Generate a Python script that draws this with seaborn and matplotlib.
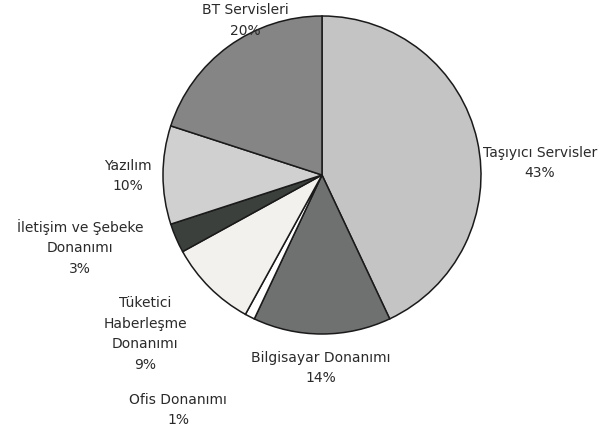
import matplotlib
matplotlib.use("Agg")
import matplotlib.pyplot as plt
import seaborn as sns

sns.set_theme(style="white")
plt.rcParams['font.family'] = ['DejaVu Sans']

categories = ["Taşıyıcı Servisler", "Bilgisayar Donanımı", "Ofis Donanımı",
              "Tüketici\nHaberleşme\nDonanımı", "İletişim ve Şebeke\nDonanımı",
              "Yazılım", "BT Servisleri"]
values = [43, 14, 1, 9, 3, 10, 20]
colors = ["#c4c4c4", "#6f7070", "#ffffff", "#f3f1ee", "#3c403c", "#d0d0d0", "#858585"]
# label anchor positions (axes data units, pie radius = 1)
label_pos = [(1.371, 0.075), (-0.006, -1.215), (-0.906, -1.478),
             (-1.113, -1.0), (-1.522, -0.455), (-1.22, -0.006), (-0.484, 0.972)]

fig = plt.figure(figsize=(6.12, 4.37), dpi=100)
ax = fig.add_axes([0, 0, 1, 1])
ax.pie(values, colors=colors, startangle=90, counterclock=False,
       wedgeprops=dict(edgecolor="#1a1a1a", linewidth=1.1), radius=1.0,
       center=(0, 0))
for cat, v, (x, y) in zip(categories, values, label_pos):
    ax.text(x, y, f"{cat}\n{v}%", ha="center", va="center", fontsize=10,
            color="#2a2a2a", linespacing=1.58)
ax.set_xlim(-322 / 159, (612 - 322) / 159)
ax.set_ylim(-(437 - 175) / 159, 175 / 159)
ax.set_aspect("equal")
ax.axis("off")
fig.savefig("out.png", dpi=100, facecolor="white")
